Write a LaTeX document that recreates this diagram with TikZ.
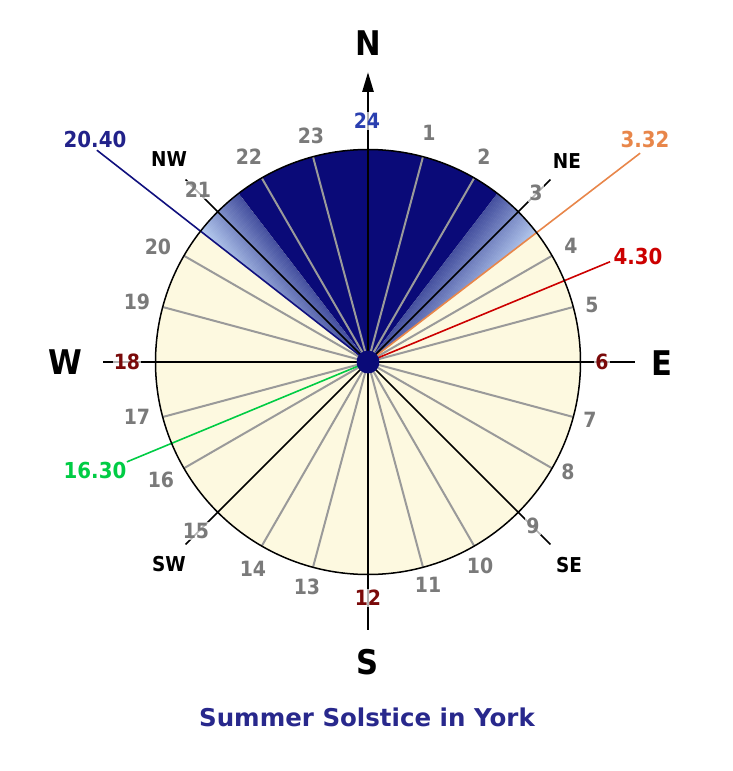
\documentclass[tikz,border=0pt]{standalone}
\usepackage{fontspec}
\setmainfont{DejaVu Sans Condensed}
\newfontfamily\titlefont{DejaVu Sans}
\usetikzlibrary{arrows.meta}
\definecolor{navyfill}{HTML}{0A0A78}
\definecolor{cream}{HTML}{FDF9E0}
\definecolor{gradA}{HTML}{45509F}
\definecolor{gradB}{HTML}{BCD2F4}
\definecolor{hourgray}{HTML}{9A9A9A}
\definecolor{numgray}{HTML}{7A7A7A}
\definecolor{navyline}{HTML}{10107E}
\definecolor{orangeline}{HTML}{E8864A}
\definecolor{redline}{HTML}{CC0000}
\definecolor{greenline}{HTML}{00CC44}
\definecolor{darkred}{HTML}{7A0A0A}
\definecolor{bluenum}{HTML}{2A3FB0}
\definecolor{titleblue}{HTML}{28288C}
\definecolor{navytext}{HTML}{22228A}
\tikzset{
  hourline/.style={hourgray, line width=2pt},
  diagline/.style={black, line width=1.5pt},
  axisline/.style={black, line width=2.8pt},
  sunline/.style={line width=1.6pt},
  hournum/.style={text=numgray, font=\fontsize{21}{24}\selectfont\bfseries, inner sep=1pt},
  onlinenum/.style={hournum, fill=white, fill opacity=0.7, text opacity=1},
  compass/.style={font=\fontsize{34}{38}\selectfont\bfseries, text=black},
  intercard/.style={font=\fontsize{20.5}{24}\selectfont\bfseries, text=black},
  timelbl/.style={font=\fontsize{22}{26}\selectfont\bfseries},
}
\begin{document}
\begin{tikzpicture}[x=1pt,y=1pt]
\useasboundingbox (-368,-409) rectangle (365,362);
\def\R{212.5}
\coordinate (c) at (0,0);
% face
\fill[cream] (c) circle (\R);
\fill[navyfill] (c) -- (52.5:\R) arc (52.5:127.5:\R) -- cycle;
% right gradient wedge
\begin{scope}
  \clip (c) -- (37.5:\R) arc (37.5:52.5:\R) -- cycle;
  \begin{scope}[rotate=52.5]
    \foreach \i in {0,...,39}{
      \pgfmathtruncatemacro\p{100-\i*100/39}
      \fill[gradA!\p!gradB] (0,{-\i*1.5}) rectangle (230,{-(\i+1)*1.5-0.4});
    }
  \end{scope}
\end{scope}
% left gradient wedge
\begin{scope}
  \clip (c) -- (127.5:\R) arc (127.5:142:\R) -- cycle;
  \begin{scope}[rotate=127.5]
    \foreach \i in {0,...,39}{
      \pgfmathtruncatemacro\p{100-\i*100/39}
      \fill[gradA!\p!gradB] (0,{\i*1.4}) rectangle (230,{(\i+1)*1.4+0.4});
    }
  \end{scope}
\end{scope}
% hour lines
\foreach \h in {1,2,4,5,7,8,10,11,13,14,16,17,19,20,22,23}
  \draw[hourline] (c) -- ({90-15*\h}:\R);
% sunrise / sunset lines
\coordinate (sset) at (142:344);
\coordinate (srise) at (37.5:343);
\coordinate (r430) at (22.5:262);
\coordinate (g1630) at (202.5:261);
\draw[sunline, navyline] (c) -- (sset);
\draw[sunline, orangeline] (c) -- (srise);
\draw[sunline, redline] (c) -- (r430);
\draw[sunline, greenline] (c) -- (g1630);
% diagonals
\foreach \a in {45,135,225,315}
  \draw[diagline] (c) -- (\a:258);
% main axes
\coordinate (nt) at (0,290);
\coordinate (st) at (0,-268);
\coordinate (wt) at (-265,0);
\coordinate (et) at (267,0);
\draw[axisline, -{Triangle[length=20pt,width=11pt]}] (c) -- (nt);
\draw[axisline] (c) -- (st);
\draw[axisline] (c) -- (wt);
\draw[axisline] (c) -- (et);
% rim
\draw[black, line width=1.5pt] (c) circle (\R);
\fill[navyfill] (c) circle (11.5);
% hour numbers
\node[hournum] (h1) at (61,229) {1};
\node[hournum] (h2) at (116,205) {2};
\node[onlinenum] (h3) at (168,169) {3};
\node[hournum] (h4) at (203,116) {4};
\node[hournum] (h5) at (224,57) {5};
\node[onlinenum, text=darkred] (h6) at (234,0) {6};
\node[hournum] (h7) at (222,-58) {7};
\node[hournum] (h8) at (200,-110) {8};
\node[onlinenum] (h9) at (165,-164) {9};
\node[hournum] (h10) at (112,-204) {10};
\node[hournum] (h11) at (60,-223) {11};
\node[onlinenum, text=darkred] (h12) at (0,-236) {12};
\node[hournum] (h13) at (-61,-225) {13};
\node[hournum] (h14) at (-115,-207) {14};
\node[onlinenum] (h15) at (-172,-169) {15};
\node[hournum] (h16) at (-207,-118) {16};
\node[hournum] (h17) at (-231,-55) {17};
\node[onlinenum, text=darkred] (h18) at (-241,0) {18};
\node[hournum] (h19) at (-231,60) {19};
\node[hournum] (h20) at (-210,115) {20};
\node[onlinenum] (h21) at (-170,172) {21};
\node[hournum] (h22) at (-119,205) {22};
\node[hournum] (h23) at (-57,226) {23};
\node[onlinenum, text=bluenum] (h24) at (-1,241) {24};
% compass
\node[compass] (N) at (0,319) {N};
\node[compass] (S) at (0,-300) {S};
\node[compass] (W) at (-303,0) {W};
\node[compass] (E) at (294,-1) {E};
\node[intercard] (NE) at (199,201) {NE};
\node[intercard] (NW) at (-199,203) {NW};
\node[intercard] (SE) at (201,-203) {SE};
\node[intercard] (SW) at (-199,-202) {SW};
% time labels
\node[timelbl, text=navytext] (t2040) at (-273,223) {20.40};
\node[timelbl, text=orangeline] (t332) at (277,223) {3.32};
\node[timelbl, text=redline] (t430) at (270,106) {4.30};
\node[timelbl, text=greenline] (t1630) at (-273,-108) {16.30};
% title
\node[font=\titlefont\fontsize{24.5}{28}\selectfont\bfseries, text=titleblue] (title) at (-1,-355) {Summer Solstice in York};
\end{tikzpicture}
\end{document}
